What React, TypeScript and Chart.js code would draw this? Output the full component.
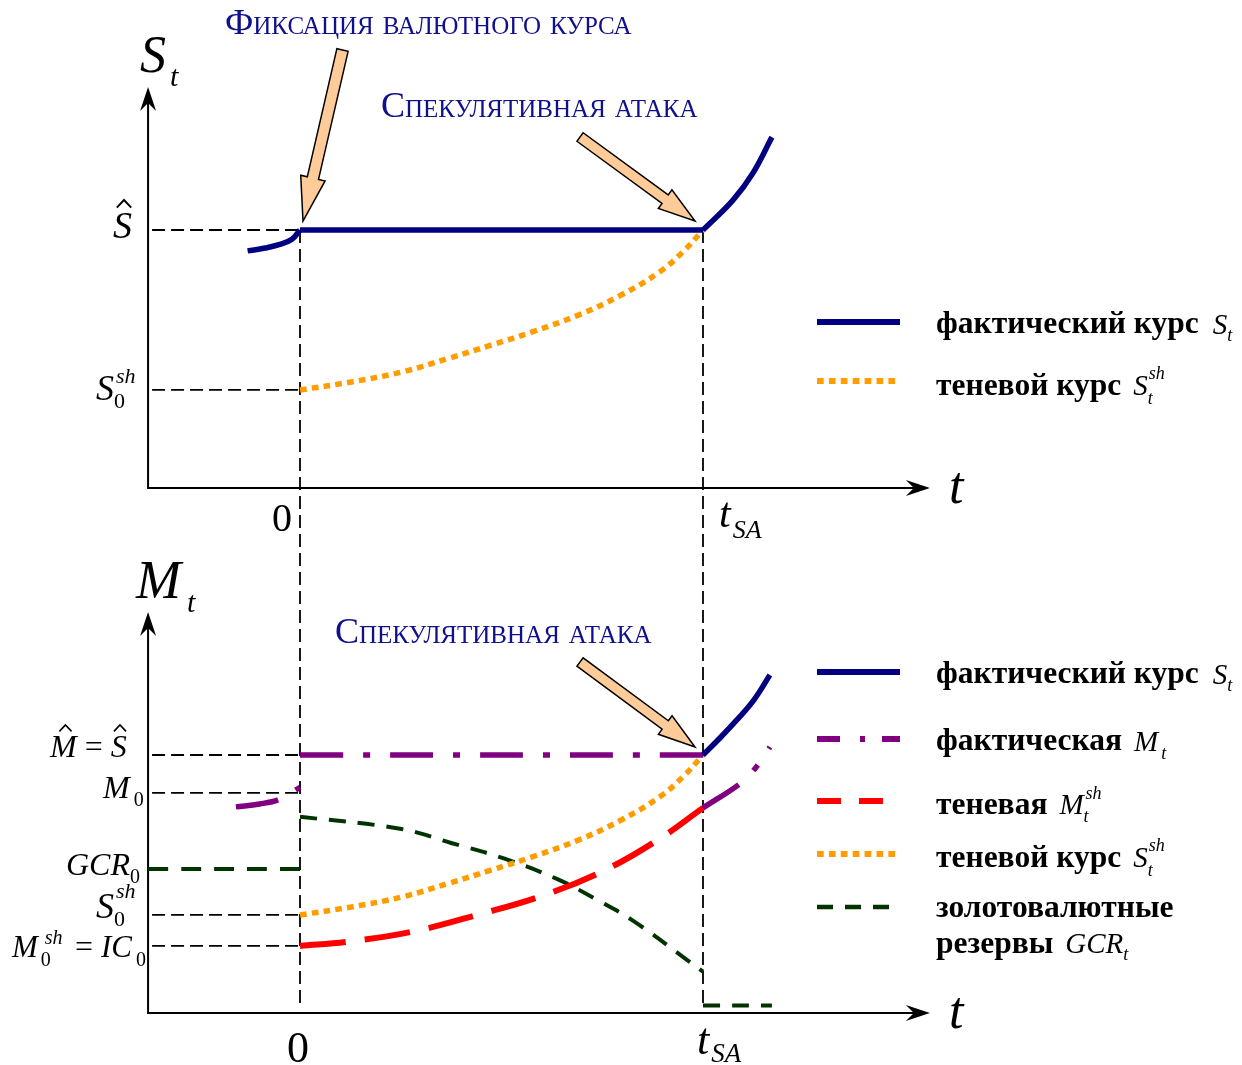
import React, { useEffect, useRef } from 'react';
import { Chart, registerables } from 'chart.js';

Chart.register(...registerables);

const W = 1242;
const H = 1065;

// ---------- data (t: 0 = peg of the exchange rate, 1 = speculative attack t_SA; values in units of S-hat / M-hat) ----------
const T_SA = 1;
const T_AXIS = -0.377; // position of the vertical axes
const T_ARROW = 1.563; // end of the time axes
const V_ARROW = 1.554; // top of the vertical axes
const S_HAT = 1;
const M_HAT = 1;
const M0_LEVEL = 0.853;

// top panel: exchange rate S_t
const tS_pre = [-0.13, -0.087, -0.05, -0.02, 0];
const vS_pre = [0.919, 0.93, 0.944, 0.964, 1.0];
const tPeg = [0, 1];
const vPeg = [1, 1];
const tS_postTop = [1, 1.0744, 1.124, 1.171];
const vS_postTop = [1, 1.116, 1.221, 1.36];
const tS_sh = [0, 0.131, 0.256, 0.37, 0.474, 0.578, 0.692, 0.797, 0.893, 0.95, 1];
const vS_sh = [0.38, 0.412, 0.451, 0.503, 0.554, 0.606, 0.671, 0.748, 0.838, 0.915, 1];

// bottom panel: money supply M_t
const tS_postBot = [1, 1.042, 1.084, 1.126, 1.166];
const vS_postBot = [1, 1.066, 1.136, 1.213, 1.31];
const tM_pre = [-0.159, -0.1, -0.045, 0];
const vM_pre = [0.799, 0.81, 0.832, 0.875];
const tM_post = [1, 1.097, 1.134, 1.166];
const vM_post = [0.795, 0.895, 0.957, 1.031];
const tM_sh = [0, 0.117, 0.278, 0.439, 0.598, 0.749, 0.888, 1];
const vM_sh = [0.26, 0.276, 0.315, 0.38, 0.453, 0.548, 0.671, 0.795];
const tGCR_pre = [T_AXIS, 0];
const vGCR_pre = [0.558, 0.558];
const tGCR = [0, 0.252, 0.375, 0.504, 0.64, 0.734, 0.826, 0.955, 1];
const vGCR = [0.761, 0.713, 0.659, 0.6, 0.518, 0.441, 0.358, 0.212, 0.16];
const tGCR_post = [1, 1.171];
const vGCR_post = [0.029, 0.029];

// ---------- layout ----------
const PX_T0 = 300;
const PX_PER_T = 403;
const PX_S0 = 488;
const PX_M0 = 1013;
const PX_PER_V = 258;

const NAVY = '#000080';
const ORANGE = '#FF9D00';
const PURPLE = '#800080';
const RED = '#FF0000';
const GREEN = '#003300';
const TEXT_BLUE = '#10108C';
const PEACH = '#FFCC99';
const FONT = '"Liberation Serif", "Times New Roman", serif';

const DASH_DOT = [43, 20, 7, 20];
const DASH_RED = [46, 19];
const DASH_GREEN = [17, 12];
const DOTS = [6.7, 5.2];

const pts = (ts: number[], vs: number[]) => ts.map((t, i) => ({ x: t, y: vs[i] }));

function ds(data: any[], yAxisID: string, color: string, width: number, dash: number[] = []) {
  return {
    data,
    yAxisID,
    borderColor: color,
    backgroundColor: color,
    borderWidth: width,
    borderDash: dash,
    borderCapStyle: 'butt',
    pointRadius: 0,
    pointHoverRadius: 0,
    fill: false,
    tension: 0.4,
  };
}

const datasets = [
  ds(pts(tS_pre, vS_pre), 'yS', NAVY, 5.5),
  ds(pts(tPeg, vPeg), 'yS', NAVY, 5.5),
  ds(pts(tS_postTop, vS_postTop), 'yS', NAVY, 5.5),
  ds(pts(tS_sh, vS_sh), 'yS', ORANGE, 5.5, DOTS),
  ds(pts(tS_postBot, vS_postBot), 'yM', NAVY, 5.5),
  ds(pts(tPeg, vPeg), 'yM', PURPLE, 5.5, DASH_DOT),
  ds(pts(tM_pre, vM_pre), 'yM', PURPLE, 5.5, DASH_DOT),
  ds(pts(tM_post, vM_post), 'yM', PURPLE, 5.5, DASH_DOT),
  ds(pts(tS_sh, vS_sh), 'yM', ORANGE, 5.5, DOTS),
  ds(pts(tM_sh, vM_sh), 'yM', RED, 6, DASH_RED),
  ds(pts(tGCR_pre, vGCR_pre), 'yM', GREEN, 4, [20, 13]),
  ds(pts(tGCR, vGCR), 'yM', GREEN, 4, DASH_GREEN),
  ds(pts(tGCR_post, vGCR_post), 'yM', GREEN, 4, DASH_GREEN),
];

// ---------- drawing helpers ----------
type Run = { s: string; size: number; it?: boolean; b?: boolean; dy?: number; dx?: number; hold?: boolean; hat?: boolean };

function drawHat(ctx: CanvasRenderingContext2D, cx: number, base: number, size: number) {
  const yb = base - 0.8 * size;
  const yt = base - 1.0 * size;
  const hw = 0.19 * size;
  ctx.save();
  ctx.setLineDash([]);
  ctx.strokeStyle = '#000';
  ctx.lineWidth = Math.max(1.2, 0.05 * size);
  ctx.beginPath();
  ctx.moveTo(cx - hw, yb);
  ctx.lineTo(cx, yt);
  ctx.lineTo(cx + hw, yb);
  ctx.stroke();
  ctx.restore();
}

function runs(ctx: CanvasRenderingContext2D, x: number, y: number, list: Run[], color = '#000') {
  ctx.fillStyle = color;
  ctx.textBaseline = 'alphabetic';
  ctx.textAlign = 'left';
  let cx = x;
  let held = 0;
  for (const r of list) {
    ctx.font = `${r.it ? 'italic ' : ''}${r.b ? 'bold ' : ''}${r.size}px ${FONT}`;
    const px = cx + (r.dx || 0);
    const py = y + (r.dy || 0);
    ctx.fillText(r.s, px, py);
    const w = ctx.measureText(r.s).width + (r.dx || 0);
    if (r.hat) drawHat(ctx, px + w * 0.58, py, r.size);
    if (r.hold) held = Math.max(held, w);
    else {
      cx += Math.max(w, held);
      held = 0;
    }
  }
  return cx;
}

function fitText(ctx: CanvasRenderingContext2D, text: string, style: string, x: number, y: number, target: number, color: string) {
  const base = 30;
  ctx.font = `${style} ${base}px ${FONT}`;
  const w = ctx.measureText(text).width;
  const size = (base * target) / w;
  ctx.font = `${style} ${size}px ${FONT}`;
  ctx.fillStyle = color;
  ctx.textAlign = 'left';
  ctx.textBaseline = 'alphabetic';
  ctx.fillText(text, x, y);
  return size;
}

function blockArrow(ctx: CanvasRenderingContext2D, tx: number, ty: number, hx: number, hy: number, shaft: number, headW: number, headL: number) {
  const dx = hx - tx;
  const dy = hy - ty;
  const L = Math.hypot(dx, dy);
  const ux = dx / L;
  const uy = dy / L;
  const nx = -uy;
  const ny = ux;
  const bx = hx - ux * headL;
  const by = hy - uy * headL;
  const s = shaft / 2;
  const h = headW / 2;
  ctx.save();
  ctx.setLineDash([]);
  ctx.beginPath();
  ctx.moveTo(tx + nx * s, ty + ny * s);
  ctx.lineTo(bx + nx * s, by + ny * s);
  ctx.lineTo(bx + nx * h, by + ny * h);
  ctx.lineTo(hx, hy);
  ctx.lineTo(bx - nx * h, by - ny * h);
  ctx.lineTo(bx - nx * s, by - ny * s);
  ctx.lineTo(tx - nx * s, ty - ny * s);
  ctx.closePath();
  ctx.fillStyle = PEACH;
  ctx.fill();
  ctx.strokeStyle = '#000';
  ctx.lineWidth = 1.5;
  ctx.lineJoin = 'miter';
  ctx.stroke();
  ctx.restore();
}

function drawAxes(ctx: CanvasRenderingContext2D, x0: number, yO: number, xEnd: number, yTop: number) {
  ctx.save();
  ctx.setLineDash([]);
  ctx.strokeStyle = '#000';
  ctx.lineWidth = 2;
  ctx.beginPath();
  ctx.moveTo(x0, yTop + 12);
  ctx.lineTo(x0, yO);
  ctx.lineTo(xEnd - 12, yO);
  ctx.stroke();
  ctx.fillStyle = '#000';
  ctx.beginPath();
  ctx.moveTo(x0, yTop);
  ctx.lineTo(x0 - 8, yTop + 24);
  ctx.lineTo(x0, yTop + 16);
  ctx.lineTo(x0 + 8, yTop + 24);
  ctx.closePath();
  ctx.fill();
  ctx.beginPath();
  ctx.moveTo(xEnd, yO);
  ctx.lineTo(xEnd - 24, yO - 8);
  ctx.lineTo(xEnd - 16, yO);
  ctx.lineTo(xEnd - 24, yO + 8);
  ctx.closePath();
  ctx.fill();
  ctx.restore();
}

function legendLine(ctx: CanvasRenderingContext2D, y: number, color: string, width: number, dash: number[], x2 = 900) {
  ctx.save();
  ctx.strokeStyle = color;
  ctx.lineWidth = width;
  ctx.setLineDash(dash);
  ctx.lineCap = 'butt';
  ctx.beginPath();
  ctx.moveTo(817, y);
  ctx.lineTo(x2, y);
  ctx.stroke();
  ctx.restore();
}

const diagram = {
  id: 'diagram',
  beforeDatasetsDraw(chart: any) {
    const { ctx, scales } = chart;
    const x = scales.x;
    const yS = scales.yS;
    const yM = scales.yM;
    const ax = x.getPixelForValue(T_AXIS);
    const axEnd = x.getPixelForValue(T_ARROW);
    drawAxes(ctx, ax, yS.getPixelForValue(0), axEnd, yS.getPixelForValue(V_ARROW));
    drawAxes(ctx, ax, yM.getPixelForValue(0), axEnd, yM.getPixelForValue(V_ARROW));

    ctx.save();
    ctx.strokeStyle = '#000';
    ctx.lineWidth = 1.8;
    ctx.setLineDash([13, 6]);
    const x0 = x.getPixelForValue(0);
    const x1 = x.getPixelForValue(T_SA);
    const hl = (yy: number) => {
      ctx.beginPath();
      ctx.moveTo(ax + 4, yy);
      ctx.lineTo(x0, yy);
      ctx.stroke();
    };
    hl(yS.getPixelForValue(S_HAT));
    hl(yS.getPixelForValue(vS_sh[0]));
    hl(yM.getPixelForValue(M_HAT));
    hl(yM.getPixelForValue(M0_LEVEL));
    hl(yM.getPixelForValue(vS_sh[0]));
    hl(yM.getPixelForValue(vM_sh[0]));
    const vl = (xx: number) => {
      ctx.beginPath();
      ctx.moveTo(xx, yS.getPixelForValue(S_HAT));
      ctx.lineTo(xx, yM.getPixelForValue(0) - 6);
      ctx.stroke();
    };
    vl(x0);
    vl(x1);
    ctx.restore();
  },
  afterDatasetsDraw(chart: any) {
    const { ctx, scales } = chart;
    const x = scales.x;
    const yS = scales.yS;
    const yM = scales.yM;
    ctx.save();

    // block arrows
    const p0x = x.getPixelForValue(0);
    const p1x = x.getPixelForValue(T_SA);
    const pS = yS.getPixelForValue(S_HAT);
    const pM = yM.getPixelForValue(M_HAT);
    blockArrow(ctx, p0x + 42.5, pS - 180, p0x + 3, pS - 9, 11.5, 25, 44);
    blockArrow(ctx, p1x - 123, pS - 93, p1x - 8, pS - 9, 10.5, 23, 37);
    blockArrow(ctx, p1x - 123, pM - 93, p1x - 8, pM - 8, 10.5, 23, 37);

    // annotations (small caps)
    fitText(ctx, 'Фиксация валютного курса', 'small-caps', 225, 34, 408, TEXT_BLUE);
    fitText(ctx, 'Спекулятивная атака', 'small-caps', 381, 117, 319, TEXT_BLUE);
    fitText(ctx, 'Спекулятивная атака', 'small-caps', 335, 643, 319, TEXT_BLUE);

    // ---- top panel labels ----
    runs(ctx, 140, 72, [{ s: 'S', size: 52, it: true }, { s: 't', size: 30, it: true, dy: 14, dx: 4 }]);
    runs(ctx, 113, 238, [{ s: 'S', size: 38, it: true, hat: true }]);
    runs(ctx, 96, 400, [
      { s: 'S', size: 36, it: true },
      { s: 'sh', size: 22, it: true, dy: -17, dx: 2, hold: true },
      { s: '0', size: 22, dy: 8 },
    ]);
    runs(ctx, 272, 531, [{ s: '0', size: 40 }]);
    runs(ctx, 719, 527, [{ s: 't', size: 42, it: true }, { s: 'SA', size: 26, it: true, dy: 11, dx: 2 }]);
    runs(ctx, 949, 503, [{ s: 't', size: 52, it: true }]);

    // ---- bottom panel labels ----
    runs(ctx, 136, 598, [{ s: 'M', size: 54, it: true }, { s: 't', size: 30, it: true, dy: 14, dx: 6 }]);
    runs(ctx, 50, 757, [
      { s: 'M', size: 32, it: true, hat: true },
      { s: ' = ', size: 32 },
      { s: 'S', size: 32, it: true, hat: true },
    ]);
    runs(ctx, 103, 798, [{ s: 'M', size: 32, it: true }, { s: '0', size: 20, dy: 8, dx: 4 }]);
    runs(ctx, 66, 875, [{ s: 'GCR', size: 32, it: true }, { s: '0', size: 20, dy: 8 }]);
    runs(ctx, 96, 918, [
      { s: 'S', size: 36, it: true },
      { s: 'sh', size: 22, it: true, dy: -20, dx: 2, hold: true },
      { s: '0', size: 22, dy: 8 },
    ]);
    runs(ctx, 12, 957, [
      { s: 'M', size: 31, it: true },
      { s: 'sh', size: 20, it: true, dy: -13, dx: 7, hold: true },
      { s: '0', size: 20, dy: 9, dx: 3 },
    ]);
    runs(ctx, 75, 957, [{ s: '=', size: 32 }]);
    runs(ctx, 101, 957, [{ s: 'IC', size: 31, it: true }, { s: '0', size: 20, dy: 9, dx: 4 }]);
    runs(ctx, 287, 1062, [{ s: '0', size: 44 }]);
    runs(ctx, 697, 1054, [{ s: 't', size: 44, it: true }, { s: 'SA', size: 27, it: true, dy: 8, dx: 2 }]);
    runs(ctx, 949, 1028, [{ s: 't', size: 52, it: true }]);

    // ---- legends ----
    const bold = (() => {
      ctx.font = `bold 30px ${FONT}`;
      return (30 * 263) / ctx.measureText('фактический курс').width;
    })();
    const LX = 936;
    // top
    legendLine(ctx, 322, NAVY, 6, []);
    let e = runs(ctx, LX, 333, [{ s: 'фактический курс', size: bold, b: true }]);
    runs(ctx, e + 14, 334, [{ s: 'S', size: 29, it: true }, { s: 't', size: 18, it: true, dy: 7 }]);
    legendLine(ctx, 381, ORANGE, 6, DOTS, 896);
    e = runs(ctx, LX, 395, [{ s: 'теневой курс', size: bold, b: true }]);
    runs(ctx, e + 12, 395, [
      { s: 'S', size: 29, it: true },
      { s: 'sh', size: 18, it: true, dy: -16, dx: 1, hold: true },
      { s: 't', size: 18, it: true, dy: 9 },
    ]);
    // bottom
    legendLine(ctx, 672, NAVY, 6, []);
    e = runs(ctx, LX, 683, [{ s: 'фактический курс', size: bold, b: true }]);
    runs(ctx, e + 14, 684, [{ s: 'S', size: 29, it: true }, { s: 't', size: 18, it: true, dy: 7 }]);
    legendLine(ctx, 739, PURPLE, 6, [23, 20, 5, 17]);
    e = runs(ctx, LX, 750, [{ s: 'фактическая', size: bold, b: true }]);
    runs(ctx, e + 12, 751, [{ s: 'M', size: 29, it: true }, { s: 't', size: 18, it: true, dy: 8, dx: 3 }]);
    legendLine(ctx, 801, RED, 6, [24, 18]);
    e = runs(ctx, LX, 814, [{ s: 'теневая', size: bold, b: true }]);
    runs(ctx, e + 12, 814, [
      { s: 'M', size: 29, it: true },
      { s: 'sh', size: 18, it: true, dy: -15, dx: 2, hold: true },
      { s: 't', size: 18, it: true, dy: 8 },
    ]);
    legendLine(ctx, 854, ORANGE, 6, DOTS, 896);
    e = runs(ctx, LX, 867, [{ s: 'теневой курс', size: bold, b: true }]);
    runs(ctx, e + 12, 867, [
      { s: 'S', size: 29, it: true },
      { s: 'sh', size: 18, it: true, dy: -16, dx: 1, hold: true },
      { s: 't', size: 18, it: true, dy: 9 },
    ]);
    legendLine(ctx, 907, GREEN, 4.5, [16, 12]);
    runs(ctx, LX, 917, [{ s: 'золотовалютные', size: bold, b: true }]);
    e = runs(ctx, LX, 953, [{ s: 'резервы', size: bold, b: true }]);
    runs(ctx, e + 12, 953, [{ s: 'GCR', size: 29, it: true }, { s: 't', size: 18, it: true, dy: 7 }]);

    ctx.restore();
  },
};

export default function App() {
  const ref = useRef<HTMLCanvasElement>(null);
  useEffect(() => {
    document.body.style.margin = '0';
    const canvas = ref.current;
    if (!canvas) return;
    const chart = new Chart(canvas, {
      type: 'line',
      data: { datasets: datasets as any },
      options: {
        responsive: false,
        animation: false,
        devicePixelRatio: 1,
        events: [],
        layout: { padding: 0, autoPadding: false },
        plugins: { legend: { display: false }, tooltip: { enabled: false }, title: { display: false } },
        scales: {
          x: { type: 'linear', display: false, bounds: 'data', min: -PX_T0 / PX_PER_T, max: (W - PX_T0) / PX_PER_T },
          yS: { type: 'linear', position: 'left', display: false, bounds: 'data', min: (PX_S0 - H) / PX_PER_V, max: PX_S0 / PX_PER_V },
          yM: { type: 'linear', position: 'left', display: false, bounds: 'data', min: (PX_M0 - H) / PX_PER_V, max: PX_M0 / PX_PER_V },
        },
      } as any,
      plugins: [diagram as any],
    });
    return () => chart.destroy();
  }, []);
  return (
    <div style={{ position: 'absolute', left: 0, top: 0, width: W, height: H, background: '#fff' }}>
      <canvas ref={ref} width={W} height={H} style={{ display: 'block', width: W, height: H }} />
    </div>
  );
}
